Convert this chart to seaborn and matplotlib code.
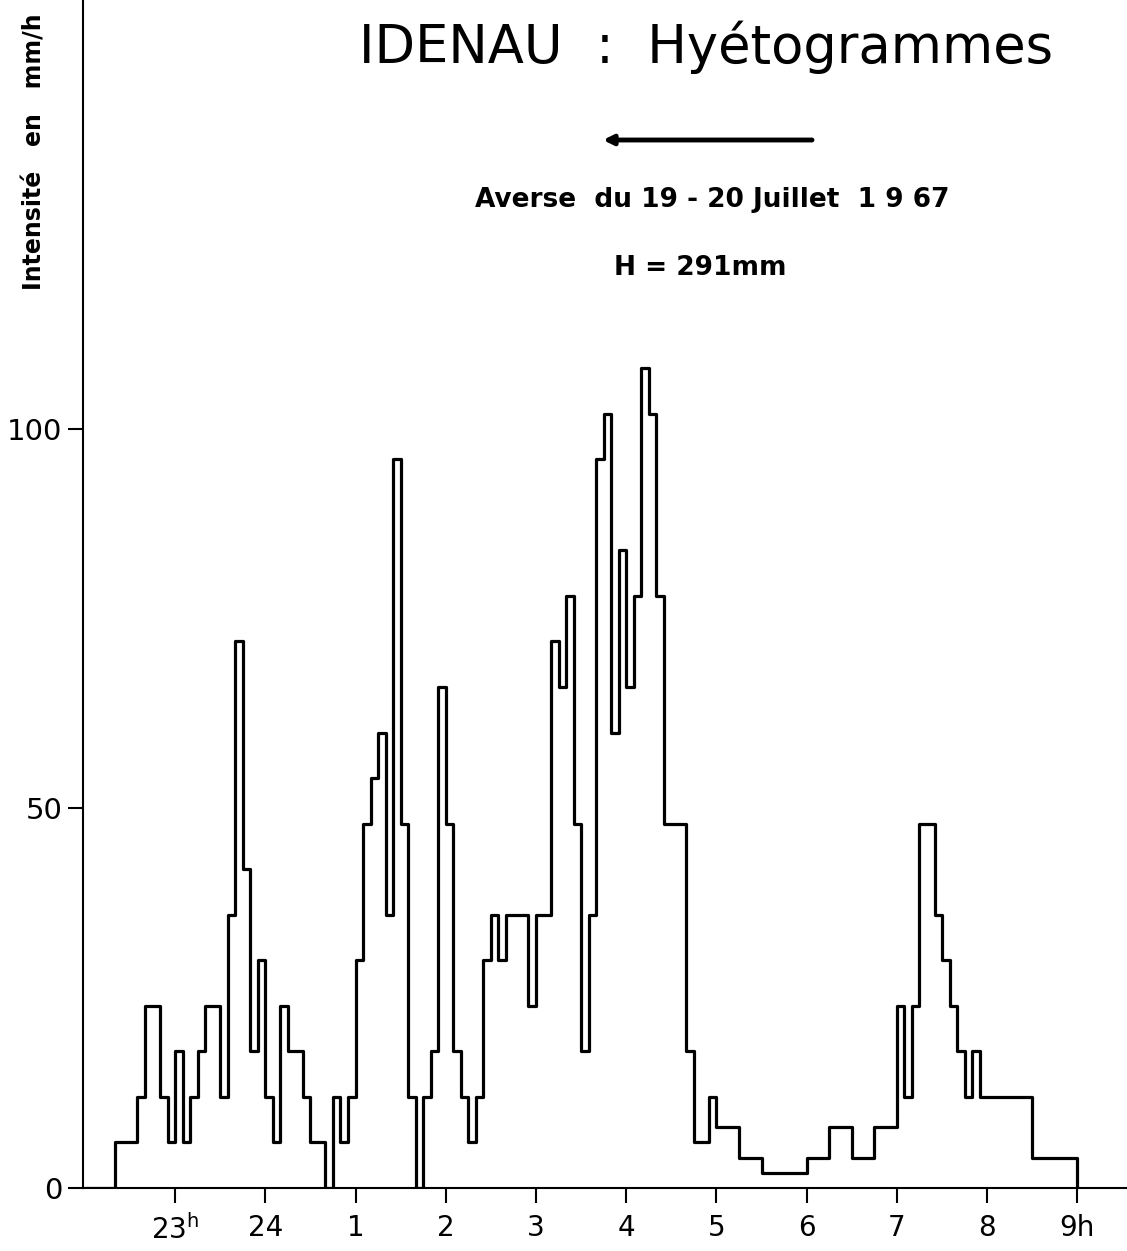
import matplotlib
matplotlib.use("Agg")
import matplotlib.pyplot as plt
import seaborn as sns
import pandas as pd

# ---- data: start time of each constant-intensity step, intensity (mm/h)
start_times = [
    "22:00",
    "22:20", "22:35", "22:40", "22:50", "22:55", "23:00", "23:05", "23:10", "23:15", "23:20",
    "23:30", "23:35", "23:40", "23:45", "23:50", "23:55", "00:00", "00:05", "00:10", "00:15",
    "00:25", "00:30", "00:40", "00:45", "00:50", "00:55", "01:00", "01:05", "01:10", "01:15",
    "01:20", "01:25", "01:30", "01:35", "01:40", "01:45", "01:50", "01:55", "02:00", "02:05",
    "02:10", "02:15", "02:20", "02:25", "02:30", "02:35", "02:40", "02:55", "03:00", "03:10",
    "03:15", "03:20", "03:25", "03:30", "03:35", "03:40", "03:45", "03:50", "03:55", "04:00",
    "04:05", "04:10", "04:15", "04:20", "04:25", "04:40", "04:45", "04:55", "05:00", "05:15",
    "05:30", "06:00", "06:15", "06:30", "06:45", "07:00", "07:05", "07:10", "07:15", "07:25",
    "07:30", "07:35", "07:40", "07:45", "07:50", "07:55", "08:30", "09:00",
]
intensity = [
    0,
    6, 12, 24, 12, 6, 18, 6, 12, 18, 24,
    12, 36, 72, 42, 18, 30, 12, 6, 24, 18,
    12, 6, 0, 12, 6, 12, 30, 48, 54, 60,
    36, 96, 48, 12, 0, 12, 18, 66, 48, 18,
    12, 6, 12, 30, 36, 30, 36, 24, 36, 72,
    66, 78, 48, 18, 36, 96, 102, 60, 84, 66,
    78, 108, 102, 78, 48, 18, 6, 12, 8, 4,
    2, 4, 8, 4, 8, 24, 12, 24, 48, 36,
    30, 24, 18, 12, 18, 12, 4, 0,
]
hour_ticks = [23, 24, 25, 26, 27, 28, 29, 30, 31, 32, 33]
hour_labels = [r"23$^{\mathregular{h}}$", "24", "1", "2", "3", "4", "5", "6", "7", "8", "9h"]
y_ticks = [0, 50, 100]
y_labels = ["0", "50", "100"]


def to_hours(s):
    h, m = map(int, s.split(":"))
    if h < 12:
        h += 24
    return h + m / 60.0


df = pd.DataFrame({"t": [to_hours(s) for s in start_times], "i": intensity})

W, H = 1127, 1251
sns.set_style("ticks")
plt.rcParams["font.family"] = ["DejaVu Sans"]
plt.rcParams["text.color"] = "black"
plt.rcParams["axes.labelcolor"] = "black"
plt.rcParams["xtick.color"] = "black"
plt.rcParams["ytick.color"] = "black"

fig = plt.figure(figsize=(W / 100, H / 100), dpi=100)
ax = fig.add_axes([83 / W, 1 - 1188 / H, (W - 83) / W, 1188 / H])

sns.lineplot(data=df, x="t", y="i", drawstyle="steps-post", color="black",
             linewidth=2.3, ax=ax, sort=True, estimator=None)

ax.set_xlim(21.98, 33.55)
ax.set_ylim(0, 156.5)
ax.set_xticks(hour_ticks)
ax.set_xticklabels(hour_labels, fontsize=20)
ax.set_yticks(y_ticks)
ax.set_yticklabels(y_labels, fontsize=21)
ax.tick_params(axis="x", direction="out", length=11, width=1.5, pad=8,
               colors="black", labelcolor="black")
ax.tick_params(axis="y", direction="out", length=11, width=1.5, pad=4,
               colors="black", labelcolor="black")
ax.set_xlabel("")
ax.set_ylabel("")
for side in ["top", "right"]:
    ax.spines[side].set_visible(False)
for side in ["left", "bottom"]:
    ax.spines[side].set_linewidth(1.5)
    ax.spines[side].set_color("black")


def fx(px):
    return px / W


def fy(py):
    return 1 - py / H


fig.text(fx(35), fy(152), "Intensité   en   mm/h", rotation=90, ha="center", va="center",
         fontsize=17, fontweight="bold", color="black")
fig.text(fx(706), fy(47), "IDENAU  :  Hyétogrammes", ha="center", va="center",
         fontsize=38, color="black")
ax.annotate("", xy=(fx(603), fy(140)), xytext=(fx(812), fy(140)), xycoords="figure fraction",
            textcoords="figure fraction",
            arrowprops=dict(arrowstyle="-|>", lw=3.5, color="black", mutation_scale=14,
                            shrinkA=0, shrinkB=0))
fig.text(fx(712), fy(200), "Averse  du 19 - 20 Juillet  1 9 67", ha="center", va="center",
         fontsize=19, fontweight="bold", color="black")
fig.text(fx(700), fy(268), "H = 291mm", ha="center", va="center",
         fontsize=19, fontweight="bold", color="black")

fig.savefig("out.png", dpi=100, facecolor="white")
